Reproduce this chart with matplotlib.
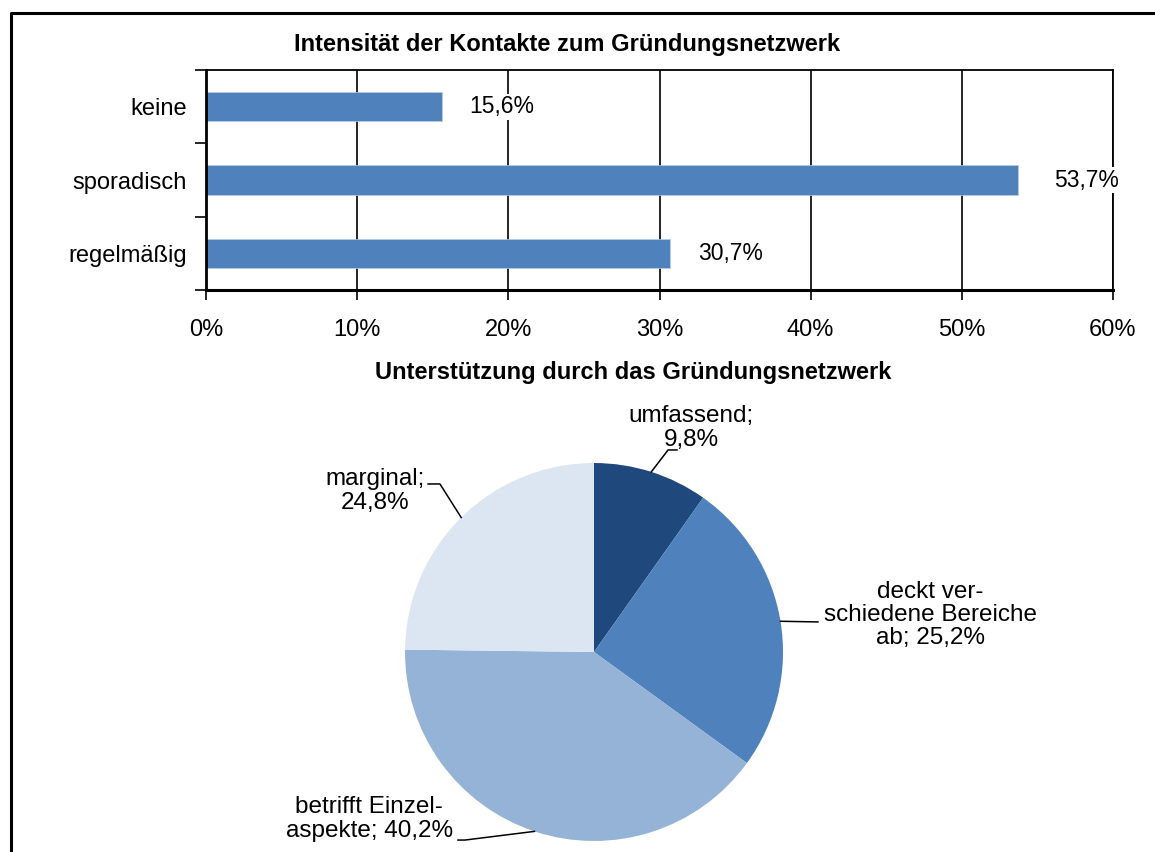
import numpy as np
import matplotlib
matplotlib.use("Agg")
import matplotlib.pyplot as plt
from matplotlib.lines import Line2D

plt.rcParams["font.family"] = ["Liberation Sans", "DejaVu Sans"]

# data
bar_cats = ["keine", "sporadisch", "regelmäßig"]
bar_vals = [15.6, 53.7, 30.7]
x_ticks = [0, 10, 20, 30, 40, 50, 60]

pie_labels = ["umfassend;\n9,8%", "deckt ver-\nschiedene Bereiche\nab; 25,2%",
              "betrifft Einzel-\naspekte; 40,2%", "marginal;\n24,8%"]
pie_vals = [9.8, 25.2, 40.2, 24.8]
pie_colors = ["#1F497D", "#4F81BD", "#95B3D7", "#DCE6F2"]

W, H = 1155, 852
fig = plt.figure(figsize=(W / 100, H / 100), dpi=100)

def px_rect(x0, y0, x1, y1):
    return [x0 / W, 1 - y1 / H, (x1 - x0) / W, (y1 - y0) / H]

# frame around the figure
fig.add_artist(Line2D([11 / W, 11 / W, 1.0], [0, 1 - 13 / H, 1 - 13 / H],
                      color="black", lw=2.2, transform=fig.transFigure))

# ---- bar chart
ax = fig.add_axes(px_rect(206, 70, 1113, 290))
y = np.arange(len(bar_cats))
ax.barh(y, bar_vals, height=0.4, color="#4F81BD", edgecolor="#B9CDE5", lw=0.5, zorder=2)
ax.set_xlim(0, 60)
ax.set_ylim(len(bar_cats) - 0.5, -0.5)
ax.set_xticks(x_ticks)
ax.set_xticklabels([f"{t}%" for t in x_ticks], fontsize=17)
ax.set_yticks(y)
ax.set_yticklabels(bar_cats, fontsize=17)
ax.set_yticks(np.arange(len(bar_cats) + 1) - 0.5, minor=True)
ax.tick_params(axis="y", which="major", length=0, pad=14)
ax.tick_params(axis="y", which="minor", length=8, width=1.2, direction="out")
ax.tick_params(axis="x", length=7, width=1.2, direction="out", pad=14)
ax.grid(axis="x", color="black", lw=1.2, zorder=1)
ax.spines["bottom"].set_linewidth(2.2)
ax.spines["left"].set_linewidth(2.0)
ax.spines["top"].set_linewidth(1.3)
ax.spines["right"].set_linewidth(1.3)
label_offsets = [27, 36, 28]
for yi, v, off in zip(y, bar_vals, label_offsets):
    ax.annotate(f"{v:.1f}%".replace(".", ","), (v, yi), xytext=(off, 0),
                textcoords="offset pixels", va="center", ha="left", fontsize=16.5,
                bbox=dict(facecolor="white", edgecolor="none", pad=1), zorder=5,
                annotation_clip=False)

fig.text(567 / W, 1 - 45 / H, "Intensität der Kontakte zum Gründungsnetzwerk",
         ha="center", va="center", fontsize=17, fontweight="bold")
fig.text(633 / W, 1 - 372 / H, "Unterstützung durch das Gründungsnetzwerk",
         ha="center", va="center", fontsize=17, fontweight="bold")

# ---- pie chart
cx, cy, r = 594, 652, 189
pax = fig.add_axes(px_rect(cx - r, cy - r, cx + r, cy + r))
wedges, _ = pax.pie(pie_vals, colors=pie_colors, startangle=90, counterclock=False,
                    radius=1.0, wedgeprops=dict(lw=0))
pax.set_xlim(-1, 1)
pax.set_ylim(-1, 1)
pax.set_aspect("equal")
pax.axis("off")

# label positions (pie units) and leader line knee / end points
label_pos = [(0.513, 1.185), (1.778, 0.196), (-1.19, -0.884), (-1.159, 0.852)]
leader_pts = [[(0.392, 1.069), (0.439, 1.069)],
              [(1.185, 0.159)],
              [(-0.683, -0.995), (-0.72, -0.995)],
              [(-0.815, 0.889), (-0.878, 0.889)]]
for w, lab, pos, pts in zip(wedges, pie_labels, label_pos, leader_pts):
    ang = np.deg2rad((w.theta1 + w.theta2) / 2)
    sx, sy = np.cos(ang), np.sin(ang)
    xs = [sx] + [p[0] for p in pts]
    ys = [sy] + [p[1] for p in pts]
    pax.plot(xs, ys, color="black", lw=1.1, clip_on=False)
    pax.text(pos[0], pos[1], lab, ha="center", va="center", fontsize=17.5,
             linespacing=1.08, clip_on=False)

fig.savefig("out.png", dpi=100)
